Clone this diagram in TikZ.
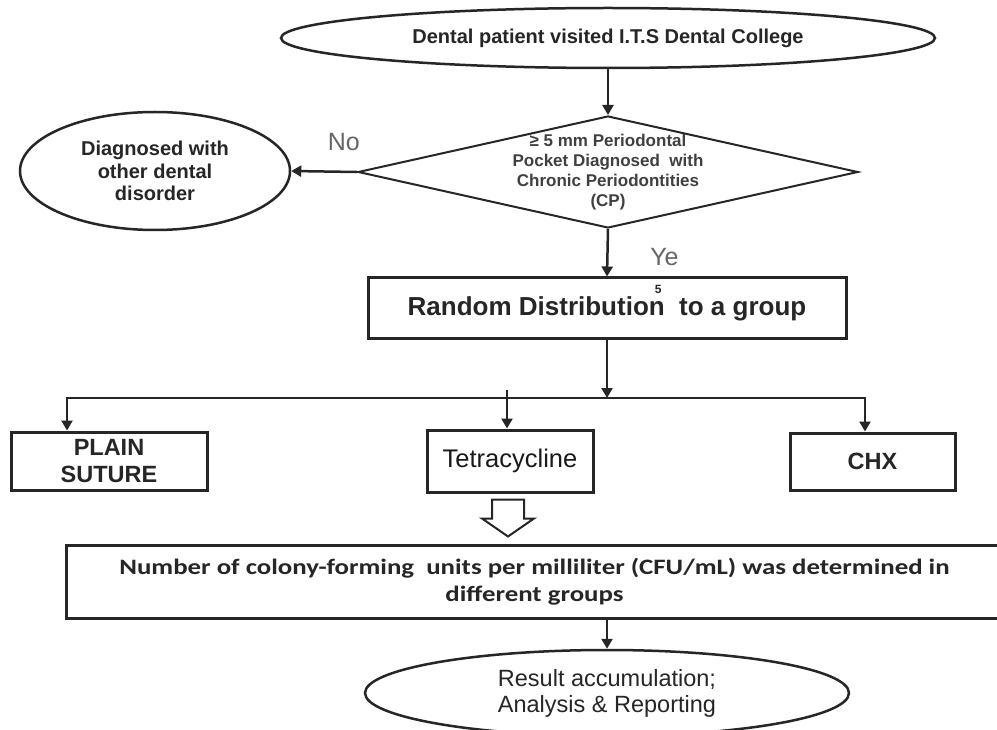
\documentclass[tikz,border=0pt]{standalone}
\usepackage{fontspec}
\setmainfont{Liberation Sans}
\newfontfamily\calfont[FakeStretch=1.22]{Carlito}
\usetikzlibrary{shapes.geometric,arrows.meta,calc}
\tikzset{
 conn/.style={line width=2.5pt, draw=black!85},
 arr/.style={conn, -{Triangle[width=11pt,length=10pt]}},
 boxn/.style={draw=black!85, line width=3pt, rectangle, inner sep=0pt, align=center, text=black!85},
 ell/.style={draw=black!85, line width=2.5pt, ellipse, inner sep=0pt, align=center, text=black!85},
 lbl/.style={font=\fontsize{25}{25}\selectfont, text=black!60},
 hollow/.style={line width=2pt, draw=black!85, fill=white, line join=miter},
}
\begin{document}
\begin{tikzpicture}[x=1pt,y=-1pt]
\useasboundingbox[fill=white] (0,0) rectangle (997,730);
\node[ell, minimum width=654, minimum height=60, font=\bfseries\fontsize{20}{24}\selectfont] (top) at (608,38) {Dental patient visited I.T.S Dental College};
\node[diamond, draw=black!85, line width=2pt, minimum width=500, minimum height=112, inner sep=0pt] (dia) at (608,172) {};
\node[align=center, inner sep=0pt, font=\bfseries\fontsize{17}{20}\selectfont, text=black!75] (diat) at (dia.center) {≥ 5 mm Periodontal\\Pocket Diagnosed \ with\\Chronic Periodontities\\(CP)};
\node[ell, minimum width=270, minimum height=118, font=\bfseries\fontsize{20}{22.5}\selectfont] (lft) at (155,171) {Diagnosed with\\other dental\\disorder};
\node[boxn, minimum width=478, minimum height=61, font=\bfseries\fontsize{26}{28}\selectfont] (rand) at (607,308.5) {Random Distribution\rlap{\kern-10pt\smash{\raisebox{22pt}{\fontsize{12}{12}\selectfont 5}}}\ \ to a group};
\node[boxn, minimum width=196, minimum height=58, font=\bfseries\fontsize{23.5}{27}\selectfont] (ps) at (109,461) {PLAIN\\SUTURE};
\node[boxn, minimum width=166, minimum height=62, font=\fontsize{25.5}{30}\selectfont, text=black!90] (tet) at (510,461) {Tetracycline};
\node[boxn, minimum width=165, minimum height=57, font=\bfseries\fontsize{23.5}{27}\selectfont] (chx) at (872.5,461.5) {CHX};
\node[boxn, minimum width=937, minimum height=73, font=\calfont\bfseries\fontsize{22}{27}\selectfont] (big) at (534.5,581.5) {Number of colony-forming \ units per milliliter (CFU/mL) was determined in\\different groups};
\node[ell, minimum width=484, minimum height=86, font=\fontsize{23.5}{26}\selectfont] (bot) at (607,693) {Result accumulation;\\Analysis \& Reporting};
% connectors
\draw[arr] (top.south) -- (dia.north);
\draw[arr] (dia.west) -- node[lbl, pos=0.2, yshift=30pt]{No} (lft.east);
\draw[arr] (dia.south) -- node[lbl, pos=0.58, xshift=57pt]{Ye} (rand.north);
\coordinate (brc) at (607,398);
\coordinate (bl) at (67,398);
\coordinate (brr) at (865,398);
\coordinate (tm) at (507,390);
\draw[arr] (rand.south) -- (brc);
\draw[arr] (brc) -- (bl) -- (bl |- ps.north);
\draw[arr] (brc) -- (brr) -- (brr |- chx.north);
\draw[arr] (tm) -- (tm |- tet.north);
\draw[hollow] ($(tet.south)+(-18,6)$) -- ++(32,0) -- ++(0,19) -- ++(10,0) -- ++(-26,18) -- ++(-26,-18) -- ++(10,0) -- cycle;
\draw[arr] (bot.north |- big.south) -- (bot.north);
\end{tikzpicture}
\end{document}
